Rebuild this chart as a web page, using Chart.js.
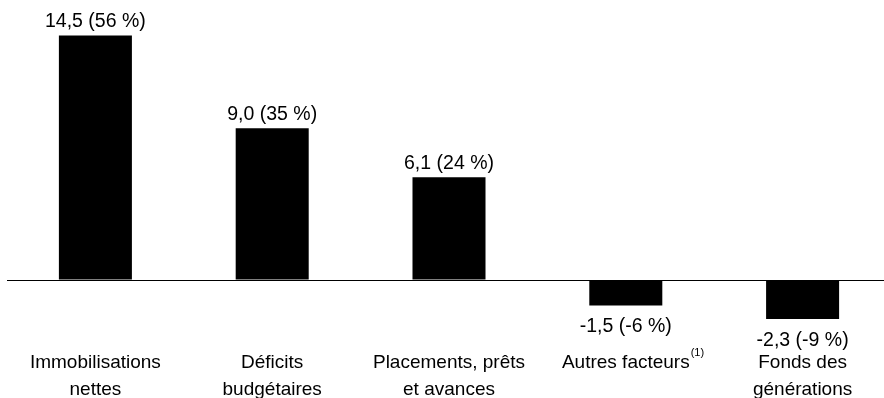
<!DOCTYPE html>
<html>
<head>
<meta charset="utf-8">
<script src="https://cdn.jsdelivr.net/npm/chart.js@4/dist/chart.umd.min.js"></script>
<style>
  html, body { margin: 0; padding: 0; background: #fff; overflow: hidden; }
  #wrap { position: relative; width: 891px; height: 398px; }
</style>
</head>
<body>
<div id="wrap"><canvas id="c"></canvas></div>
<script>
// Contributions à la variation de la dette (G$) et part en %
const categories = [
  ["Immobilisations", "nettes"],
  ["Déficits", "budgétaires"],
  ["Placements, prêts", "et avances"],
  ["Autres facteurs"],
  ["Fonds des", "générations"]
];
const amounts = [14.5, 9.0, 6.1, -1.5, -2.3];
const shares = [56, 35, 24, -6, -9];
const footnoteIndex = 3;
const footnoteMark = "(1)";

const FONT = '"Liberation Sans", Arial, Helvetica, sans-serif';
const fmt = v => v.toFixed(1).replace('.', ',');

// Writes "montant (part %)" above positive bars and under negative ones
const valueLabels = {
  id: 'valueLabels',
  afterDatasetsDraw(chart) {
    const ctx = chart.ctx;
    const meta = chart.getDatasetMeta(0);
    ctx.save();
    ctx.font = '19.5px ' + FONT;
    ctx.fillStyle = '#000';
    ctx.textAlign = 'center';
    ctx.textBaseline = 'alphabetic';
    meta.data.forEach((bar, i) => {
      const txt = fmt(amounts[i]) + ' (' + shares[i] + ' %)';
      const y = amounts[i] >= 0 ? bar.y - 8 : bar.y + 27;
      ctx.fillText(txt, bar.x, y);
    });
    ctx.restore();
  }
};

// Small raised note call right after the "Autres facteurs" label
const footnote = {
  id: 'footnote',
  afterDraw(chart) {
    const ctx = chart.ctx;
    const xs = chart.scales.x;
    ctx.save();
    ctx.font = '19px ' + FONT;
    const w = ctx.measureText(categories[footnoteIndex][0]).width;
    const x = xs.getPixelForTick(footnoteIndex) + w / 2 + 1;
    ctx.font = '11px ' + FONT;
    ctx.fillStyle = '#000';
    ctx.textAlign = 'left';
    ctx.textBaseline = 'alphabetic';
    ctx.fillText(footnoteMark, x, xs.top + 16);
    ctx.restore();
  }
};

new Chart(document.getElementById('c'), {
  type: 'bar',
  data: {
    labels: categories,
    datasets: [{
      data: amounts,
      backgroundColor: '#000',
      borderWidth: 0,
      barPercentage: 0.413,
      categoryPercentage: 1
    }]
  },
  options: {
    responsive: true,
    maintainAspectRatio: false,
    animation: false,
    layout: { padding: { left: 7, top: 0, right: 0, bottom: 0 } },
    plugins: { legend: { display: false }, tooltip: { enabled: false } },
    scales: {
      x: {
        grid: { display: false, drawTicks: false },
        border: { display: false },
        ticks: {
          color: '#000',
          padding: 10,
          maxRotation: 0,
          autoSkip: false,
          font: { family: FONT, size: 19, lineHeight: 1.38 }
        },
        afterFit(scale) { scale.height = 58; }
      },
      y: {
        min: -3.55,
        max: 16.6,
        grid: { color: '#000', lineWidth: 1, drawTicks: false },
        border: { display: false },
        ticks: { display: false },
        afterBuildTicks(scale) { scale.ticks = [{ value: 0 }]; },
        afterFit(scale) { scale.width = 0; }
      }
    }
  },
  plugins: [valueLabels, footnote]
});
</script>
</body>
</html>
